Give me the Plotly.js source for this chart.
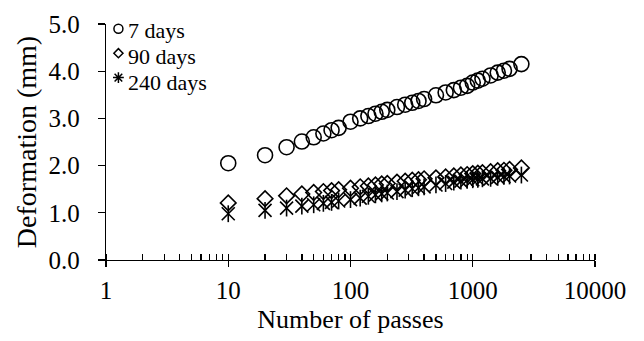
<!DOCTYPE html>
<html>
<head>
<meta charset="utf-8">
<script src="https://cdn.plot.ly/plotly-3.0.1.min.js"></script>
<style>html,body{margin:0;padding:0;background:#fff;}#chart{width:644px;height:341px;}</style>
</head>
<body>
<div id="chart"></div>
<script>
const passes = [10,20,30,40,50,60,70,80,100,120,140,160,180,200,240,280,320,360,400,500,600,700,800,900,1000,1100,1200,1400,1600,1800,2000,2500];
const days7 = [2.05,2.22,2.39,2.51,2.60,2.68,2.75,2.80,2.93,3.00,3.05,3.10,3.14,3.18,3.24,3.29,3.33,3.37,3.41,3.49,3.55,3.60,3.65,3.69,3.76,3.80,3.84,3.91,3.97,4.01,4.05,4.15];
const days90 = [1.21,1.30,1.36,1.40,1.43,1.45,1.47,1.49,1.52,1.55,1.57,1.59,1.61,1.62,1.65,1.67,1.69,1.70,1.72,1.74,1.76,1.78,1.80,1.81,1.83,1.84,1.85,1.87,1.89,1.90,1.92,1.95];
const days240 = [0.98,1.05,1.10,1.14,1.17,1.20,1.22,1.25,1.28,1.31,1.35,1.38,1.40,1.42,1.45,1.48,1.51,1.53,1.55,1.59,1.62,1.65,1.67,1.69,1.70,1.71,1.72,1.73,1.75,1.77,1.78,1.80];
const seriesNames = ['7 days','90 days','240 days'];
const xTickVals = [1,10,100,1000,10000];
const xTickText = ['1','10','100','1000','10000'];

const FONT = 'Liberation Serif, Times New Roman, serif';
const blk = '#000';

const traces = [
  {x: passes, y: days7, mode:'markers', showlegend:false, hoverinfo:'skip',
   marker:{symbol:'circle-open', size:15, color:blk, line:{width:1.6, color:blk}}},
  {x: passes, y: days90, mode:'markers', showlegend:false, hoverinfo:'skip',
   marker:{symbol:'diamond-open', size:12, color:blk, line:{width:1.6, color:blk}}},
  {x: passes, y: days240, mode:'markers', showlegend:false, hoverinfo:'skip',
   marker:{symbol:'x-thin-open', size:13, color:blk, line:{width:1.6, color:blk}}},
  {x: passes, y: days240, mode:'markers', showlegend:false, hoverinfo:'skip',
   marker:{symbol:'line-ns-open', size:12, color:blk, line:{width:1.6, color:blk}}},
  // legend symbols (labels drawn as annotations next to them)
  {x:[null], y:[null], mode:'markers', name:' ',
   marker:{symbol:'circle-open', size:9, color:blk, line:{width:1.5, color:blk}}},
  {x:[null], y:[null], mode:'markers', name:' ',
   marker:{symbol:'diamond-open', size:7, color:blk, line:{width:1.5, color:blk}}},
  {x:[null], y:[null], mode:'markers', name:' ',
   marker:{symbol:'asterisk-open', size:9, color:blk, line:{width:1.5, color:blk}}},
  // carrier for the inside half of the major x ticks
  {x:[null], y:[null], xaxis:'x2', mode:'markers', showlegend:false, hoverinfo:'skip'}
];

const legendY = [0.971, 0.862, 0.752];
const annotations = seriesNames.map((t, i) => ({
  text: t, xref:'paper', yref:'paper', x:0.041, y:legendY[i], xanchor:'left', yanchor:'middle',
  showarrow:false, font:{family:FONT, size:22, color:blk}
}));

const layout = {
  width:644, height:341,
  margin:{l:106, r:49, t:16, b:81},
  paper_bgcolor:'#fff', plot_bgcolor:'#fff',
  font:{family:FONT, color:blk, size:24},
  showlegend:true,
  legend:{x:-0.0155, y:1.053, xanchor:'left', yanchor:'top', bgcolor:'rgba(0,0,0,0)',
          font:{family:FONT, size:16.5, color:blk}, tracegroupgap:0, itemwidth:30},
  annotations: annotations,
  xaxis:{type:'log', range:[0,4], tickvals:xTickVals, ticktext:xTickText,
         ticks:'outside', ticklen:6, tickwidth:1.3, tickcolor:blk, ticklabelstandoff:2,
         showline:true, linecolor:blk, linewidth:1.3, showgrid:false, zeroline:false,
         tickfont:{family:FONT, size:25, color:blk},
         minor:{ticks:'inside', ticklen:6, tickwidth:1.3, tickcolor:blk, dtick:'D1', showgrid:false},
         title:{text:'Number of passes', font:{family:FONT, size:26, color:blk}, standoff:6}},
  xaxis2:{type:'log', range:[0,4], overlaying:'x', anchor:'y', side:'bottom',
          tickvals:xTickVals, showticklabels:false, ticks:'inside', ticklen:6, tickwidth:1.3, tickcolor:blk,
          showline:false, showgrid:false, zeroline:false},
  yaxis:{range:[0,5], dtick:1, tick0:0, tickformat:'.1f',
         ticks:'outside', ticklen:7, tickwidth:1.3, tickcolor:blk, ticklabelstandoff:13,
         showline:true, linecolor:blk, linewidth:1.3, showgrid:false, zeroline:false,
         tickfont:{family:FONT, size:25, color:blk},
         title:{text:'Deformation (mm)', font:{family:FONT, size:28, color:blk}, standoff:3}}
};

Plotly.newPlot('chart', traces, layout, {displayModeBar:false, staticPlot:true});
</script>
</body>
</html>
